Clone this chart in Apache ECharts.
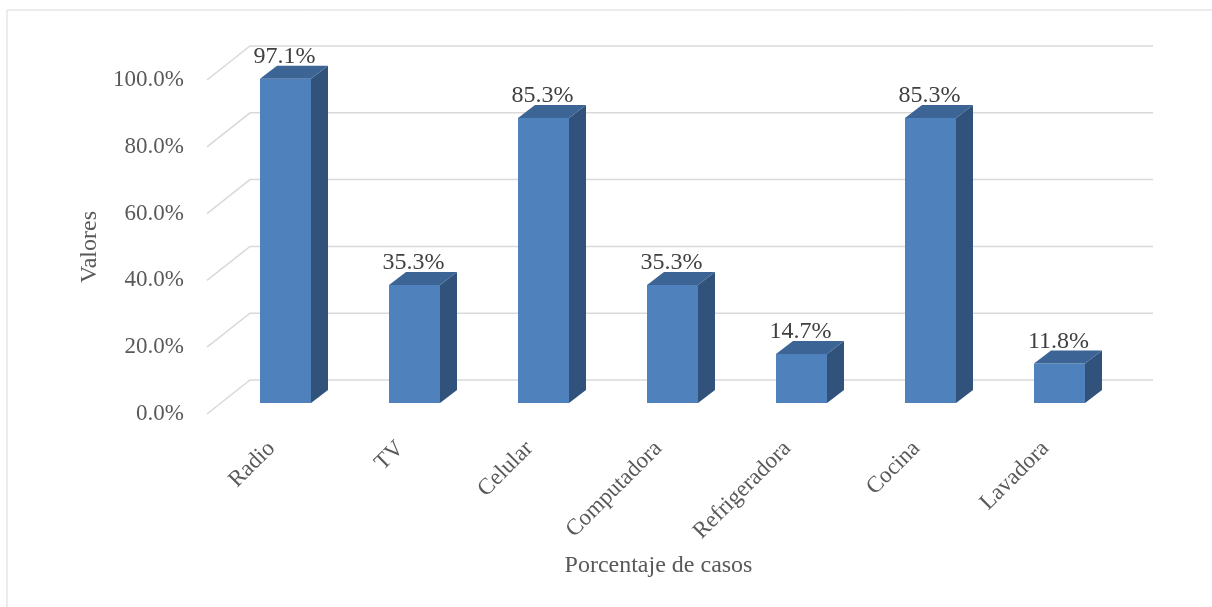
<!DOCTYPE html>
<html lang="es">
<head>
  <meta charset="UTF-8">
  <title>Porcentaje de casos</title>
  <script src="https://cdn.jsdelivr.net/npm/echarts@6/dist/echarts.min.js"></script>
  <style>
    body {
      margin: 0;
      padding: 0;
      background: #fff;
    }

    #chart {
      width: 1212px;
      height: 607px;
    }
  </style>
</head>
<body>
  <div id="chart"></div>
  <script>
    var categories = ['Radio', 'TV', 'Celular', 'Computadora', 'Refrigeradora', 'Cocina', 'Lavadora'];
    var values = [97.1, 35.3, 85.3, 35.3, 14.7, 85.3, 11.8];
    var yTicks = [0, 20, 40, 60, 80, 100];

    var FONT = '"Liberation Serif", "Times New Roman", serif';
    // fake 3D: floor depth, bar offset inside the floor, bar depth
    var DEPTH_X = 43, DEPTH_Y = -34;
    var BAR_OFF_X = 14, BAR_OFF_Y = -11;
    var BAR_DX = 17, BAR_DY = -13;
    var BAR_W = 51;

    var chart = echarts.init(document.getElementById('chart'));

    // grid lines: diagonal on the floor side + back wall line
    function renderGridLine(params, api) {
      var cs = params.coordSys;
      var y = api.coord([0, api.value(1)])[1];
      return {
        type: 'polyline',
        shape: {
          points: [[cs.x, y], [cs.x + DEPTH_X, y + DEPTH_Y], [cs.x + cs.width + DEPTH_X, y + DEPTH_Y]]
        },
        style: { stroke: '#d9d9d9', lineWidth: 1.5, fill: null }
      };
    }

    // 3D-looking column with its value label
    function renderBar(params, api) {
      var base = api.coord([api.value(0), 0]);
      var top = api.coord([api.value(0), api.value(1)]);
      var l = base[0] + BAR_OFF_X - BAR_W / 2, r = l + BAR_W;
      var b = base[1] + BAR_OFF_Y, t = top[1] + BAR_OFF_Y;
      return {
        type: 'group',
        children: [
          { type: 'rect', shape: { x: l, y: t, width: BAR_W, height: b - t }, style: { fill: '#4f81bd' } },
          { type: 'polygon', shape: { points: [[r, t], [r + BAR_DX, t + BAR_DY], [r + BAR_DX, b + BAR_DY], [r, b]] }, style: { fill: '#30527b' } },
          { type: 'polygon', shape: { points: [[l, t], [l + BAR_DX, t + BAR_DY], [r + BAR_DX, t + BAR_DY], [r, t]] }, style: { fill: '#3c6596' } },
          {
            type: 'text', x: (l + r) / 2 - 1, y: t - 10,
            style: { text: api.value(1).toFixed(1) + '%', align: 'center', verticalAlign: 'bottom', fontSize: 24, fontFamily: FONT, fill: '#404040' }
          }
        ]
      };
    }

    var option = {
      animation: false,
      backgroundColor: '#fff',
      graphic: [{
        type: 'rect',
        shape: { x: 7, y: 10, width: 1230, height: 630 },
        style: { fill: null, stroke: '#d9d9d9', lineWidth: 1 }
      }],
      grid: { left: 207, right: 102, top: 80, bottom: 193 },
      xAxis: {
        type: 'category',
        data: categories,
        name: 'Porcentaje de casos',
        nameLocation: 'middle',
        nameGap: 140,
        nameTextStyle: { fontSize: 24, fontFamily: FONT, color: '#595959' },
        axisLine: { show: false },
        axisTick: { show: false },
        axisLabel: { rotate: 45, margin: 31, fontSize: 23, fontFamily: FONT, color: '#595959', interval: 0 }
      },
      yAxis: {
        type: 'value',
        min: 0,
        max: 100,
        interval: 20,
        name: 'Valores',
        nameLocation: 'middle',
        nameRotate: 90,
        nameGap: 99,
        nameTextStyle: { fontSize: 24, fontFamily: FONT, color: '#595959' },
        axisLine: { show: false },
        axisTick: { show: false },
        splitLine: { show: false },
        axisLabel: {
          margin: 23, fontSize: 23, fontFamily: FONT, color: '#595959',
          formatter: function (v) { return v.toFixed(1) + '%'; }
        }
      },
      series: [
        {
          type: 'custom',
          renderItem: renderGridLine,
          data: yTicks.map(function (v) { return [0, v]; }),
          z: 1
        },
        {
          type: 'custom',
          renderItem: renderBar,
          data: values.map(function (v, i) { return [i, v]; }),
          z: 2
        }
      ]
    };

    chart.setOption(option);
  </script>
</body>
</html>
